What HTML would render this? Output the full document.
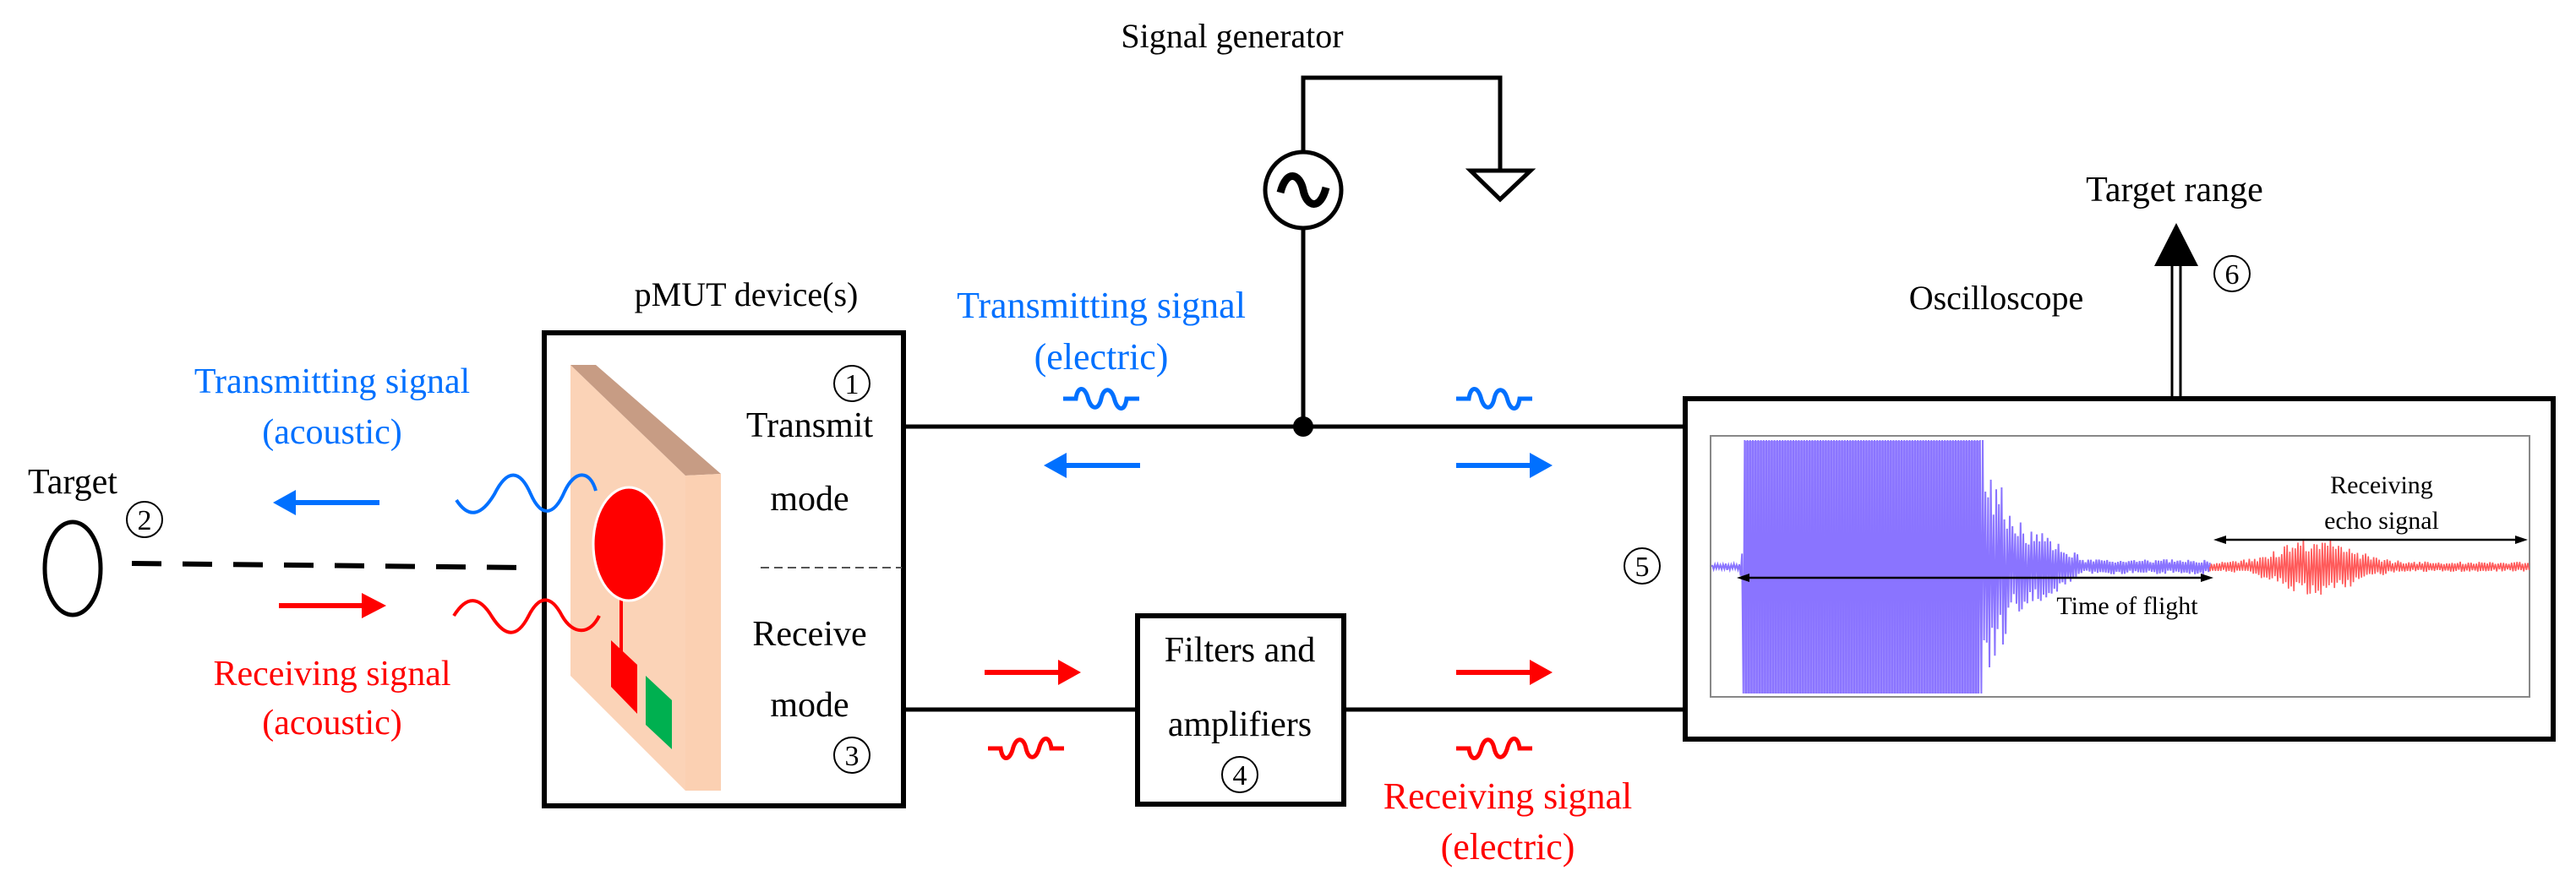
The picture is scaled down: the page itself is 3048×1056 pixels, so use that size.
<!DOCTYPE html>
<html><head><meta charset="utf-8"><style>
html,body{margin:0;padding:0;background:#fff}
svg{display:block}
svg text{font-family:"Liberation Serif","Times New Roman",Times,"DejaVu Serif",serif !important}
</style></head><body>
<svg id="s" width="3048" height="1056" viewBox="0 0 3048 1056" xmlns="http://www.w3.org/2000/svg" style="font-family:'Liberation Serif','Times New Roman',Times,serif">
<text x="1458" y="56" font-size="40" text-anchor="middle">Signal generator</text>
<polyline points="1542,184 1542,92 1775,92 1775,202" fill="none" stroke="#000" stroke-width="5"/>
<polygon points="1740,202 1811,202 1775,236" fill="none" stroke="#000" stroke-width="5"/>
<circle cx="1542" cy="225" r="45" fill="#fff" stroke="#000" stroke-width="5"/>
<path d="M1515,228 C1522,200 1538,205 1542,225 C1546,245 1562,250 1569,222" fill="none" stroke="#000" stroke-width="9"/>
<line x1="1542" y1="270" x2="1542" y2="505" stroke="#000" stroke-width="5"/>
<circle cx="1542" cy="505" r="12" fill="#000"/>
<line x1="1069" y1="505" x2="1994" y2="505" stroke="#000" stroke-width="5"/>
<line x1="1069" y1="840" x2="1346" y2="840" stroke="#000" stroke-width="5"/>
<line x1="1590" y1="840" x2="1994" y2="840" stroke="#000" stroke-width="5"/>
<text x="883" y="362" font-size="40" text-anchor="middle">pMUT device(s)</text>
<rect x="644" y="394" width="425" height="560" fill="#fff" stroke="#000" stroke-width="6"/>
<polygon points="675,432 811,563 811,936 675,800" fill="#fbd3b7"/>
<polygon points="675,432 705,432 853,561 811,563" fill="#c79c84"/>
<polygon points="811,563 853,561 853,936 811,936" fill="#fbd0b2"/>
<line x1="735" y1="700" x2="735" y2="775" stroke="#f00" stroke-width="4"/>
<ellipse cx="744" cy="644" rx="42" ry="67" fill="#f00" stroke="#fff" stroke-width="3"/>
<polygon points="723,758 754,787 754,845 723,813" fill="#f00"/>
<polygon points="764,800 795,829 795,887 764,858" fill="#00b050"/>
<text x="958" y="517" font-size="42" text-anchor="middle">Transmit</text>
<text x="958" y="604" font-size="42" text-anchor="middle">mode</text>
<line x1="900" y1="672" x2="1067" y2="672" stroke="#555" stroke-width="2" stroke-dasharray="10,6"/>
<text x="958" y="764" font-size="42" text-anchor="middle">Receive</text>
<text x="958" y="848" font-size="42" text-anchor="middle">mode</text>
<rect x="1346" y="729" width="244" height="223" fill="#fff" stroke="#000" stroke-width="6"/>
<text x="1467" y="783" font-size="42" text-anchor="middle">Filters and</text>
<text x="1467" y="871" font-size="42" text-anchor="middle">amplifiers</text>
<g font-size="34" text-anchor="middle">
<circle cx="1008" cy="454" r="21" fill="none" stroke="#000" stroke-width="2"/><text x="1008" y="466">1</text>
<circle cx="1008" cy="894" r="21" fill="none" stroke="#000" stroke-width="2"/><text x="1008" y="906">3</text>
<circle cx="171" cy="615" r="21" fill="none" stroke="#000" stroke-width="2"/><text x="171" y="627">2</text>
<circle cx="1467" cy="917" r="21" fill="none" stroke="#000" stroke-width="2"/><text x="1467" y="929">4</text>
<circle cx="1943" cy="670" r="21" fill="none" stroke="#000" stroke-width="2"/><text x="1943" y="682">5</text>
<circle cx="2641" cy="324" r="21" fill="none" stroke="#000" stroke-width="2"/><text x="2641" y="336">6</text>
</g>
<text x="86" y="584" font-size="42" text-anchor="middle">Target</text>
<ellipse cx="86" cy="673" rx="33" ry="55" fill="none" stroke="#000" stroke-width="5"/>
<line x1="156" y1="667" x2="625" y2="672" stroke="#000" stroke-width="6" stroke-dasharray="35,25"/>
<text x="393" y="465" font-size="42" text-anchor="middle" fill="#0070ff">Transmitting signal</text>
<text x="393" y="525" font-size="42" text-anchor="middle" fill="#0070ff">(acoustic)</text>
<text x="393" y="811" font-size="42" text-anchor="middle" fill="#f00">Receiving signal</text>
<text x="393" y="869" font-size="42" text-anchor="middle" fill="#f00">(acoustic)</text>
<line x1="449" y1="595" x2="350" y2="595" stroke="#0070ff" stroke-width="6"/>
<polygon points="323,595 350,580 350,610" fill="#0070ff"/>
<line x1="330" y1="717" x2="430" y2="717" stroke="#f00" stroke-width="6"/>
<polygon points="457,717 428,702 428,732" fill="#f00"/>
<path d="M540,592 C555,615 570,610 585,585 C600,555 615,555 628,585 C640,612 655,612 668,582 C680,556 698,556 705,581" fill="none" stroke="#0070ff" stroke-width="4"/>
<path d="M537,729 C552,705 567,705 582,730 C598,755 612,755 625,730 C638,704 652,704 665,729 C678,752 698,752 709,729" fill="none" stroke="#f00" stroke-width="4"/>
<text x="1303" y="376" font-size="44" text-anchor="middle" fill="#0070ff">Transmitting signal</text>
<text x="1303" y="437" font-size="44" text-anchor="middle" fill="#0070ff">(electric)</text>
<text x="1784" y="957" font-size="44" text-anchor="middle" fill="#f00">Receiving signal</text>
<text x="1784" y="1017" font-size="44" text-anchor="middle" fill="#f00">(electric)</text>
<g fill="none" stroke-width="5">
<path d="M-45,0 H-30 C-28,-15 -20,-15 -16,-2 C-12,14 -3,14 0,0 C3,-14 12,-14 16,2 C20,15 28,15 30,0 H45" stroke="#0070ff" transform="translate(1303,472)"/>
<path d="M-45,0 H-30 C-28,-15 -20,-15 -16,-2 C-12,14 -3,14 0,0 C3,-14 12,-14 16,2 C20,15 28,15 30,0 H45" stroke="#0070ff" transform="translate(1768,472)"/>
<path d="M-45,0 H-30 C-28,15 -20,15 -16,2 C-12,-14 -3,-14 0,0 C3,14 12,14 16,-2 C20,-15 28,-15 30,0 H45" stroke="#f00" transform="translate(1214,886)"/>
<path d="M-45,0 H-30 C-28,15 -20,15 -16,2 C-12,-14 -3,-14 0,0 C3,14 12,14 16,-2 C20,-15 28,-15 30,0 H45" stroke="#f00" transform="translate(1768,886)"/>
</g>
<line x1="1349" y1="551" x2="1258" y2="551" stroke="#0070ff" stroke-width="6"/>
<polygon points="1235,551 1262,536 1262,566" fill="#0070ff"/>
<line x1="1723" y1="551" x2="1814" y2="551" stroke="#0070ff" stroke-width="6"/>
<polygon points="1837,551 1810,536 1810,566" fill="#0070ff"/>
<line x1="1165" y1="796" x2="1256" y2="796" stroke="#f00" stroke-width="6"/>
<polygon points="1279,796 1252,781 1252,811" fill="#f00"/>
<line x1="1723" y1="796" x2="1814" y2="796" stroke="#f00" stroke-width="6"/>
<polygon points="1837,796 1810,781 1810,811" fill="#f00"/>
<text x="2362" y="366" font-size="40" text-anchor="middle">Oscilloscope</text>
<text x="2573" y="238" font-size="42" text-anchor="middle">Target range</text>
<line x1="2570" y1="472" x2="2570" y2="308" stroke="#000" stroke-width="3"/>
<line x1="2580" y1="472" x2="2580" y2="308" stroke="#000" stroke-width="3"/>
<polygon points="2575,264 2549,315 2601,315" fill="#000"/>
<rect x="1994" y="472" width="1027" height="403" fill="#fff" stroke="#000" stroke-width="6"/>
<rect x="2024" y="516" width="969" height="309" fill="#fff" stroke="#888" stroke-width="2"/>
<rect x="2064" y="522" width="278" height="299" fill="#a08eff"/>
<path id="blue" fill="none" stroke="#8a74ff" stroke-width="2"/>
<path id="red" fill="none" stroke="#ff5a5a" stroke-width="1.6"/>
<line x1="2060" y1="684" x2="2614" y2="684" stroke="#000" stroke-width="2.5"/>
<polygon points="2055,684 2070,679 2070,689" fill="#000"/>
<polygon points="2619,684 2604,679 2604,689" fill="#000"/>
<text x="2517" y="727" font-size="30" text-anchor="middle">Time of flight</text>
<line x1="2624" y1="639" x2="2986" y2="639" stroke="#000" stroke-width="2.5"/>
<polygon points="2619,639 2634,634 2634,644" fill="#000"/>
<polygon points="2991,639 2976,634 2976,644" fill="#000"/>
<text x="2818" y="584" font-size="30" text-anchor="middle">Receiving</text>
<text x="2818" y="626" font-size="30" text-anchor="middle">echo signal</text>
</svg>
<script>
(function(){
var b="",r="",y0=671,dir=1;
b+="M2026,"+y0;
for(var x=2026;x<=2615;x+=1.6){
 var a;
 if(x<2058)a=4;
 else if(x<2062)a=20;
 else if(x<2346)a=150;
 else if(x<2384)a=150-(x-2346)*2.4;
 else if(x<2460)a=60-(x-2384)*0.6;
 else a=9;
 dir=-dir;
 var f=(x>=2062&&x<2346)?1:(0.5+Math.random()*0.5);
 var yy=y0+dir*a*f;
 if(yy<521)yy=521;if(yy>822)yy=822;
 b+=" L"+x.toFixed(1)+","+yy.toFixed(1);
}
document.getElementById("blue").setAttribute("d",b);
r="M2615,"+y0;
for(var x=2615;x<=2993;x+=1.6){
 var a=6+30*Math.exp(-Math.pow((x-2741)/55,2));
 dir=-dir;
 r+=" L"+x.toFixed(1)+","+(y0+dir*a*(0.5+Math.random()*0.5)).toFixed(1);
}
document.getElementById("red").setAttribute("d",r);
})();
</script>
</body></html>
